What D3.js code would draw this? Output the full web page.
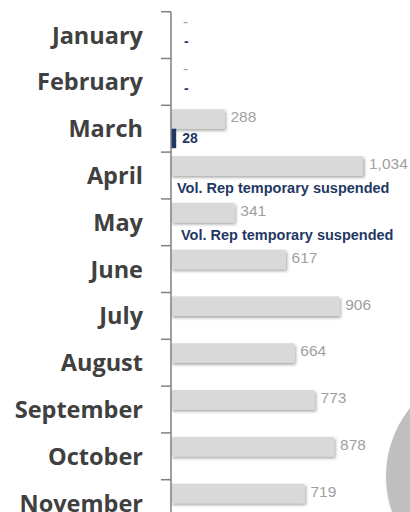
<!DOCTYPE html>
<html>
<head>
<meta charset="utf-8">
<script src="https://cdn.jsdelivr.net/npm/d3@7"></script>
<style>
  html, body { margin: 0; padding: 0; background: #fff; overflow: hidden; }
  svg { display: block; }
</style>
</head>
<body>
<svg id="chart" width="410" height="512"></svg>
<script>
// ---- data ----
const months = ["January","February","March","April","May","June","July","August","September","October","November","December"];
const prevYear = [0, 0, 288, 1034, 341, 617, 906, 664, 773, 878, 719, null];
const currYear = [0, 0, 28, null, null, null, null, null, null, null, null, null];
const currNotes = ["", "", "", "Vol. Rep temporary suspended", "Vol. Rep temporary suspended", "", "", "", "", "", "", ""];
const sideShare = [1];

const svg = d3.select("#chart");
const W = 410, H = 512;

const defs = svg.append("defs");
const f = defs.append("filter").attr("id", "sh").attr("x", "-10%").attr("y", "-30%").attr("width", "130%").attr("height", "180%");
f.append("feDropShadow").attr("dx", 1.5).attr("dy", 2).attr("stdDeviation", 1.5).attr("flood-color", "#000").attr("flood-opacity", 0.35);

const x = d3.scaleLinear().domain([0, 1034]).range([171, 363]);
const y = d3.scaleBand().domain(months).range([11.7, 11.7 + 46.8 * months.length]).padding(0);
const sub = d3.scaleBand().domain(["prev", "curr"]).range([0, y.bandwidth()]).paddingInner(0).paddingOuter(0.2);

// decorative circle (cut off at bottom right)
const pie = d3.pie()(sideShare);
const arc = d3.arc().innerRadius(0).outerRadius(108);
svg.append("g").attr("transform", "translate(494,476)")
  .selectAll("path").data(pie).join("path")
  .attr("d", arc).attr("fill", "#bfbfbf").attr("filter", "url(#sh)");

// month labels
svg.append("g").selectAll("text").data(months).join("text")
  .attr("x", 143)
  .attr("y", d => y(d) + y.bandwidth() / 2)
  .attr("dy", "0.36em")
  .attr("text-anchor", "end")
  .attr("font-family", "'Open Sans', 'Liberation Sans', sans-serif")
  .attr("font-weight", "bold")
  .attr("font-size", 23.5)
  .attr("fill", "#404040")
  .text(d => d);

// grey bars (previous year)
const rows = months.map((m, i) => ({ m, p: prevYear[i], c: currYear[i], note: currNotes[i] }));
svg.append("g").selectAll("rect").data(rows.filter(r => r.p > 0)).join("rect")
  .attr("x", x(0))
  .attr("y", r => y(r.m) + sub("prev"))
  .attr("width", r => x(r.p) - x(0))
  .attr("height", sub.bandwidth())
  .attr("fill", "#d9d9d9")
  .attr("filter", "url(#sh)");

// blue bars (current year)
svg.append("g").selectAll("rect").data(rows.filter(r => r.c > 0)).join("rect")
  .attr("x", x(0))
  .attr("y", r => y(r.m) + sub("curr"))
  .attr("width", r => x(r.c) - x(0))
  .attr("height", sub.bandwidth())
  .attr("fill", "#1f3864");

// grey labels
svg.append("g").selectAll("text").data(rows.filter(r => r.p !== null)).join("text")
  .attr("x", r => r.p > 0 ? x(r.p) + 6 : x(0) + 12)
  .attr("y", r => y(r.m) + sub("prev") + sub.bandwidth() / 2 - (r.p > 0 ? 2 : 4))
  .attr("dy", "0.35em")
  .attr("font-family", "'Liberation Sans', Arial, sans-serif")
  .attr("font-size", 15.5)
  .attr("fill", "#a0a0a0")
  .text(r => r.p > 0 ? d3.format(",")(r.p) : "-");

// blue labels
svg.append("g").selectAll("text").data(rows.filter(r => r.c !== null || r.note)).join("text")
  .attr("x", r => r.note ? x(0) + 6 + (r.m === "May" ? 4 : 0) : (r.c > 0 ? x(r.c) + 6 : x(0) + 13))
  .attr("y", r => y(r.m) + sub("curr") + sub.bandwidth() / 2 + (r.note ? 3 : 0) - (r.c === 0 ? 4 : 0))
  .attr("dy", "0.35em")
  .attr("font-family", "'Liberation Sans', Arial, sans-serif")
  .attr("font-weight", "bold")
  .attr("font-size", r => r.note ? 14.5 : 14)
  .attr("fill", "#1f3864")
  .text(r => r.note ? r.note : (r.c > 0 ? d3.format(",")(r.c) : "-"));

// axis line + ticks at band boundaries
const ax = svg.append("g").attr("stroke", "#808080").attr("stroke-width", 1.5);
ax.append("line").attr("x1", x(0)).attr("x2", x(0)).attr("y1", y.range()[0]).attr("y2", H);
ax.selectAll("line.tick").data(months).join("line").attr("class", "tick")
  .attr("x1", x(0) - 10).attr("x2", x(0))
  .attr("y1", d => y(d)).attr("y2", d => y(d));
</script>
</body>
</html>
